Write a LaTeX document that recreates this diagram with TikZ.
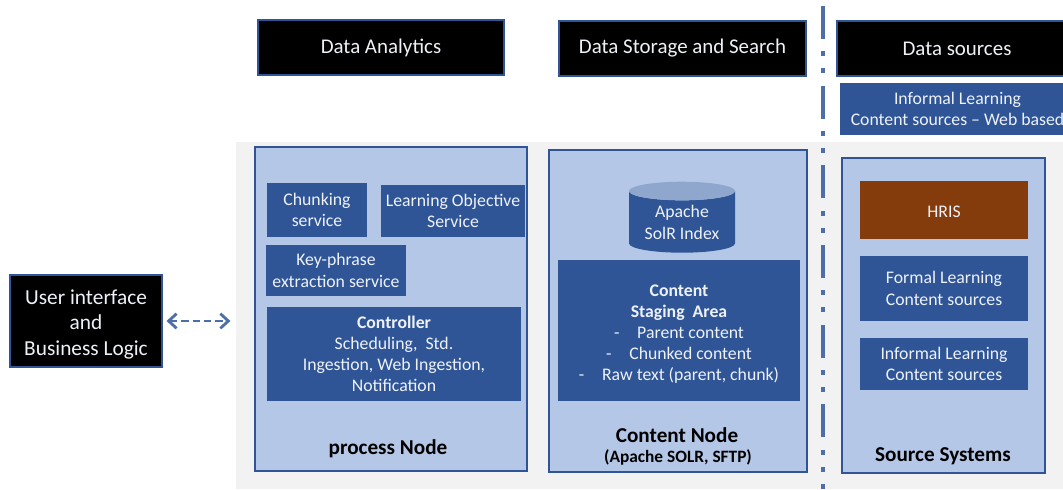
\documentclass[tikz,border=0pt]{standalone}
\usepackage{fontspec}
\setmainfont{Carlito}
\usetikzlibrary{arrows.meta,positioning,shapes.geometric}
\definecolor{darkblue}{HTML}{2F5597}
\definecolor{lightblue}{HTML}{B4C7E7}
\definecolor{midblue}{HTML}{8FA6CD}
\definecolor{bandgrey}{HTML}{F2F2F2}
\definecolor{rust}{HTML}{843C0C}
\definecolor{softwhite}{HTML}{EEF2F8}
\tikzset{
>={Straight Barb[length=6pt,width=11pt]},
  size/.style 2 args={minimum width=#1*.75pt, minimum height=#2*.75pt},
  header/.style={
    rectangle,
    fill=black,
    draw=darkblue, thick,
    text=softwhite,
    inner sep=0pt,
    align=center,
    font=\fontsize{15.7}{19}\selectfont},
  service/.style={
    rectangle,
    fill=darkblue,
    text=softwhite,
    inner sep=0pt,
    align=center,
    execute at begin node={\rule{0pt}{12pt}},
    font=\fontsize{13.3}{15.9}\selectfont},
  tier/.style={
    rectangle,
    fill=lightblue,
    draw=darkblue, thick,
    inner sep=0pt},
  tierlabel/.style={
    font=\fontsize{15.9}{18}\selectfont\bfseries,
    align=center,
    inner sep=0pt},
  line/.style={draw=darkblue!85!white, line width=2.1pt, dash pattern=on 5.5pt off 3pt},
}

\begin{document}
\begin{tikzpicture}[x=.75pt, y=-.75pt]
  \useasboundingbox (0,0) rectangle (1063,489);
  % background band behind the tiers
  \node[rectangle, fill=bandgrey, inner sep=0pt, size={827}{347}] (band) at (649.5,315.5) {};
  % column headers
  \node[header, size={246}{55}] (analytics) at (381,47.5) {\raisebox{-2pt}{Data Analytics}};
  \node[header, size={247}{55}] (storage) at (682.5,48.5) {\raisebox{-2pt}{Data Storage and Search}};
  \node[header, size={240}{55}] (sources) at (957,48.5) {\raisebox{-2pt}{Data sources}};
  \node[service, size={235}{52}] (websources) at (957.5,109)
    {Informal Learning\\Content sources -- Web based};
  % separator between storage and sources
  \coordinate (septop) at (823,6);
  \coordinate (sepbot) at (823,489);
  \draw[darkblue!85!white, line width=3pt,
    dash pattern=on 24.75pt off 9.25pt on 3.75pt off 9pt on 3.75pt off 9.25pt]
    (septop) -- (sepbot);
  % process node
  \node[tier, size={272}{324}] (process) at (391,309) {};
  \node[service, size={100}{54}] (chunking) at (317,210) {Chunking\\service};
  \node[service, size={144}{52}] (objective) at (453,211) {Learning Objective\\Service};
  \node[service, size={140}{51}] (keyphrase) at (336,270.5) {Key-phrase\\extraction service};
  \node[service, size={254}{94}] (controller) at (394,354)
    {\textbf{Controller}\\Scheduling,~ Std.\\Ingestion, Web Ingestion,\\Notification};
  \node[tierlabel] (processlabel) at (388,449) {process Node};
  % content node
  \node[tier, size={258}{322}] (content) at (678,311) {};
  \node[cylinder, shape border rotate=90, aspect=.25, cylinder uses custom fill,
    cylinder body fill=darkblue, cylinder end fill=midblue, inner sep=0pt,
    text=softwhite, align=center, font=\fontsize{13.3}{15.9}\selectfont,
    size={106}{71}] (solr) at (682,222) {\\[-6pt]Apache\\SolR Index};
  \node[service, size={242}{141}] (staging) at (679,330.5)
    {\rule{0pt}{14pt}\textbf{Content}\\\textbf{Staging~ Area}\\-\quad Parent content\\-\quad Chunked content\\-\quad Raw text (parent, chunk)};
  \node[tierlabel] (contentlabel) at (677,435) {Content Node};
  \node[tierlabel, font=\fontsize{13}{15}\selectfont\bfseries] (contentsub) at (678,457) {(Apache SOLR, SFTP)};
  % source systems
  \node[tier, size={203}{315}] (systems) at (943.5,315.5) {};
  \node[service, fill=rust, size={168}{58}] (hris) at (944,210) {HRIS};
  \node[service, size={168}{65}] (formal) at (944,288.5) {Formal Learning\\Content sources};
  \node[service, size={168}{52}] (informal) at (944,364) {Informal Learning\\Content sources};
  \node[tierlabel] (systemslabel) at (943,456) {Source Systems};
  % user interface
  \node[header, size={152}{92}, font=\fontsize{16}{19.3}\selectfont] (ui) at (86,321)
    {\rule{0pt}{16pt}User interface\\and\\Business Logic};
  \draw[line, <->, shorten <=3pt, shorten >=4pt] (ui.east) -- (ui.east -| band.west);
\end{tikzpicture}
\end{document}
